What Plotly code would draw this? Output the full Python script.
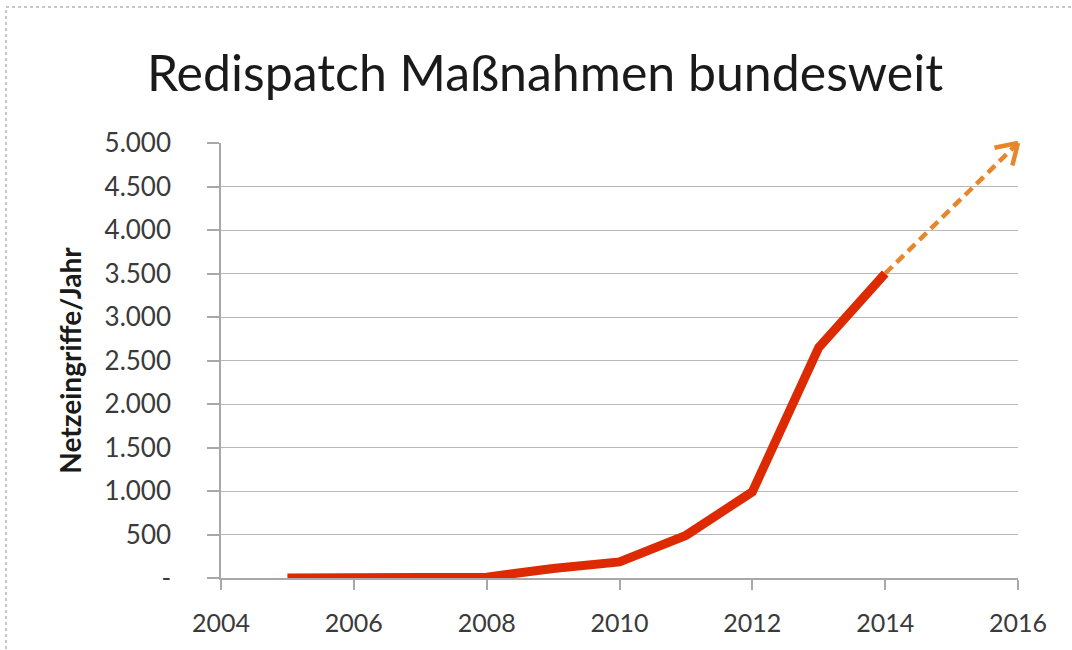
import plotly.graph_objects as go

years = [2005, 2006, 2007, 2008, 2009, 2010, 2011, 2012, 2013, 2014]
eingriffe = [0, 0, 0, 10, 110, 185, 490, 990, 2650, 3500]
proj_years = [2014, 2016]
proj_values = [3500, 5000]
y_tickvals = [0, 500, 1000, 1500, 2000, 2500, 3000, 3500, 4000, 4500, 5000]
y_ticktext = ["-", "500", "1.000", "1.500", "2.000", "2.500", "3.000", "3.500", "4.000", "4.500", "5.000"]
x_tickvals = [2004, 2006, 2008, 2010, 2012, 2014, 2016]

W, H = 1072, 650
L, R, T, B = 221, 54, 143, 72
ORANGE = "#e8862a"

fig = go.Figure()
fig.add_trace(go.Scatter(
    x=proj_years, y=proj_values, mode="lines",
    line=dict(color=ORANGE, width=4.5, dash="10px,6px"),
    showlegend=False, hoverinfo="skip"))
fig.add_trace(go.Scatter(
    x=years, y=eingriffe, mode="lines",
    line=dict(color="#dd2a00", width=9),
    showlegend=False, cliponaxis=False))

# open chevron arrow head at the end of the projection
for ax_off, ay_off in [(-25, 5), (-6, 24)]:
    fig.add_annotation(x=proj_years[-1], y=proj_values[-1], xref="x", yref="y",
                       text="", showarrow=True, arrowhead=0, arrowwidth=4.5,
                       arrowcolor=ORANGE, ax=ax_off, ay=ay_off, standoff=0)

pw = W - L - R
ph = H - T - B
fig.add_shape(type="rect", xref="paper", yref="paper",
              x0=(6 - L) / pw, x1=(1080 - L) / pw,
              y0=-(B + 20) / ph, y1=1 + (T - 7) / ph,
              line=dict(color="#b5b5b5", width=1.5, dash="dot"), layer="below")

fig.update_layout(
    width=W, height=H,
    margin=dict(l=L, r=R, t=T, b=B),
    paper_bgcolor="white", plot_bgcolor="white",
    font=dict(family="Lato, Open Sans, sans-serif", color="#404040"),
    title=dict(text="Redispatch Maßnahmen bundesweit", x=(545 - L) / pw, xref="paper",
               xanchor="center", y=1 - 73 / H, yanchor="middle",
               font=dict(size=50, color="#1a1a1a", family="Lato, Open Sans, sans-serif")),
    xaxis=dict(range=[2004, 2016], tickvals=x_tickvals, showgrid=False,
               showline=True, linecolor="#a8a8a8", linewidth=1.5,
               ticks="outside", ticklen=10, tickcolor="#a8a8a8", tickwidth=1.5,
               ticklabelstandoff=12, tickfont=dict(size=25, color="#3a3a3a"),
               zeroline=False),
    yaxis=dict(range=[0, 5000], tickvals=y_tickvals, ticktext=y_ticktext,
               showgrid=True, gridcolor="#b8b8b8", gridwidth=1.2,
               showline=True, linecolor="#a8a8a8", linewidth=1.5,
               ticks="outside", ticklen=12, tickcolor="#a8a8a8", tickwidth=1.5,
               ticklabelstandoff=31, tickfont=dict(size=26, color="#3a3a3a"),
               zeroline=False,
               title=dict(text="<b>Netzeingriffe/Jahr</b>", standoff=15,
                          font=dict(size=28, color="#1a1a1a"))),
)

fig.write_html("out.html", config={"displayModeBar": False},
               post_script="document.body.style.margin='0px';")
